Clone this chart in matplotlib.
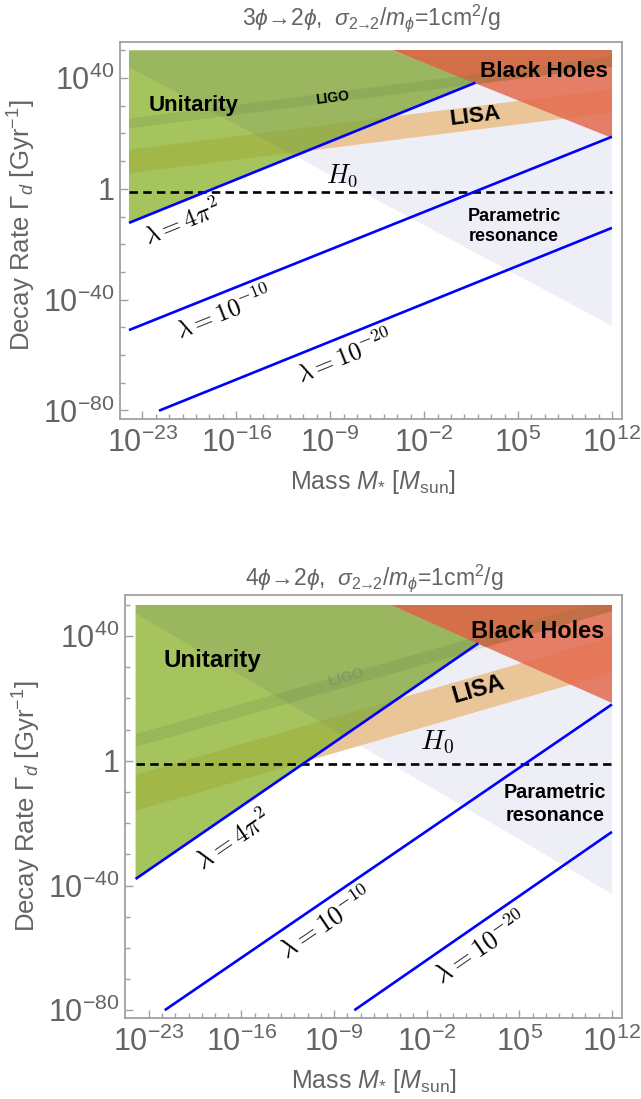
import numpy as np
import matplotlib
matplotlib.use('Agg')
import matplotlib.pyplot as plt
from matplotlib import font_manager
from matplotlib.patches import Polygon, Rectangle
from matplotlib.ticker import FixedLocator, FixedFormatter, NullFormatter

# Narrow sans if we have it, otherwise the regular metric-compatible one
_installed = {f.name for f in font_manager.fontManager.ttflist}
NARROW = 'Liberation Sans Narrow' in _installed
SANS = 'Liberation Sans Narrow' if NARROW else 'Liberation Sans'
FS = 1.2 if NARROW else 1.0   # narrow glyphs need a bigger size for the same width

plt.rcParams.update({
    'font.family': [SANS, 'DejaVu Sans'],
    'mathtext.fontset': 'custom',
    'mathtext.rm': SANS,
    'mathtext.it': SANS + ':italic',
    'mathtext.bf': SANS + ':bold',
})

# All values are log10: mass in M_sun, decay rate in Gyr^-1
MASS_RANGE = [-24, 12]
RATE_TOP = 50
H0_RATE = -1.15
X_MAJOR = [-23, -16, -9, -2, 5, 12]
X_LABELS = [r'$10^{-23}$', r'$10^{-16}$', r'$10^{-9}$', r'$10^{-2}$', r'$10^{5}$', r'$10^{12}$']
Y_MAJOR = [-80, -40, 0, 40]
Y_LABELS = [r'$10^{-80}$', r'$10^{-40}$', '1', r'$10^{40}$']
LAMBDA_LABELS = [r'$\lambda = 4\pi^2$', r'$\lambda = 10^{-10}$', r'$\lambda = 10^{-20}$']

# 3phi -> 2phi
P32_LAMBDA_X = [[-24, 1.82], [-24, 12], [-21.76, 12]]
P32_LAMBDA_Y = [[-12.3, 38.3], [-51.0, 18.8], [-80.1, -14.1]]
P32_BH_X = [-4.4, 12]
P32_BH_Y = [50, 18.5]
P32_PR_Y = [44, -49.5]          # parametric resonance edge at the two mass ends
P32_LIGO_LO = [21.8, 44.0]
P32_LIGO_HI = [25.4, 47.7]
P32_LISA_LO = [5.6, 27.5]
P32_LISA_HI = [14.1, 36.0]

# 4phi -> 2phi
P42_LAMBDA_X = [[-24, 1.9], [-21.8, 12], [-7.47, 12]]
P42_LAMBDA_Y = [[-37.9, 37.7], [-80.0, 18.1], [-80.0, -22.8]]
P42_BH_X = [-4.7, 12]
P42_BH_Y = [50, 18.4]
P42_PR_Y = [47.3, -42.7]
P42_LIGO_LO = [4.4, 48.0]
P42_LIGO_HI = [8.6, 52.2]
P42_LISA_LO = [-16.0, 28.3]
P42_LISA_HI = [-4.5, 39.8]

GRAY = '#646464'
FRAME = '#a0a0a0'


def pt(x, y):
    return (10.0 ** x, 10.0 ** y)


def angle_of(ax, xs, ys):
    p = ax.transData.transform([pt(xs[0], ys[0]), pt(xs[1], ys[1])])
    return np.degrees(np.arctan2(p[1, 1] - p[0, 1], p[1, 0] - p[0, 0]))


def band_poly(lo, hi):
    x0, x1 = MASS_RANGE
    return [pt(x0, lo[0]), pt(x1, lo[1]), pt(x1, hi[1]), pt(x0, hi[0])]


def draw_panel(ax, xlim, ylim, lam_x, lam_y, bh_x, bh_y, pr_y,
               ligo_lo, ligo_hi, lisa_lo, lisa_hi, txt):
    x0, x1 = MASS_RANGE
    ax.set_xscale('log')
    ax.set_yscale('log')
    ax.set_xlim(10.0 ** xlim[0], 10.0 ** xlim[1])
    ax.set_ylim(10.0 ** ylim[0], 10.0 ** ylim[1])

    box = Rectangle(pt(x0, ylim[0]), 10.0 ** x1 - 10.0 ** x0, 10.0 ** RATE_TOP - 10.0 ** ylim[0],
                    transform=ax.transData)

    # parametric resonance region, under everything else
    pr_verts = [pt(x0, pr_y[0]), pt(x1, pr_y[1]), pt(x1, RATE_TOP), pt(x0, RATE_TOP)]
    ax.add_patch(Polygon(pr_verts, closed=True, fc='#eeeef6', ec='none', zorder=1))

    # LISA band; unitarity shades it olive where they overlap
    lisa = Polygon(band_poly(lisa_lo, lisa_hi), closed=True, fc='#eac597', ec='none', zorder=2)
    ax.add_patch(lisa)
    lisa.set_clip_path(box)

    green = Polygon([pt(x0, lam_y[0][0]), pt(lam_x[0][1], lam_y[0][1]), pt(bh_x[0], RATE_TOP),
                     pt(x0, RATE_TOP)], closed=True, fc='#8db431', ec='none', alpha=0.78, zorder=3)
    ax.add_patch(green)
    tint = Polygon(pr_verts, closed=True, fc='#6f7a78', ec='none', alpha=0.14, zorder=4)
    ax.add_patch(tint)
    tint.set_clip_path(green)

    bh = Polygon([pt(bh_x[0], bh_y[0]), pt(x1, RATE_TOP), pt(bh_x[1], bh_y[1])],
                 closed=True, fc='#e36b4e', ec='none', alpha=0.85, zorder=5)
    ax.add_patch(bh)
    bh_dark = Polygon([pt(x0, ligo_lo[0]), pt(x1, ligo_lo[1]), pt(x1, 80), pt(x0, 80)],
                      closed=True, fc='#c5632d', ec='none', alpha=0.5, zorder=6)
    ax.add_patch(bh_dark)
    bh_dark.set_clip_path(bh)

    ligo = Polygon(band_poly(ligo_lo, ligo_hi), closed=True, fc='#4a6e3c', ec='none',
                   alpha=0.14, zorder=7)
    ax.add_patch(ligo)
    ligo.set_clip_path(box)

    ax.plot([10.0 ** x0, 10.0 ** x1], [10.0 ** H0_RATE] * 2, color='black', lw=1.9,
            ls=(0, (3.2, 2.0)), zorder=8)

    for xs, ys in zip(lam_x, lam_y):
        ax.plot(10.0 ** np.array(xs), 10.0 ** np.array(ys), color='#0000ff', lw=1.9,
                solid_capstyle='butt', zorder=9)

    # lambda labels follow their lines
    for (xs, ys), lab, pos in zip(zip(lam_x, lam_y), LAMBDA_LABELS, txt['lambda']):
        ax.text(*pt(*pos), lab, rotation=angle_of(ax, xs, ys), rotation_mode='anchor',
                ha='center', va='center', fontsize=txt['lam_fs'], math_fontfamily='cm', zorder=10)

    ax.text(*pt(*txt['h0']), r'$H_0$', fontsize=txt['lam_fs'] + 1, math_fontfamily='cm',
            ha='center', va='center', zorder=10)

    bold = dict(fontweight='bold', ha='center', va='center', zorder=10, color='black')
    ax.text(*pt(*txt['unit']), 'Unitarity', fontsize=txt['unit_fs'] * FS, **bold)
    ax.text(*pt(*txt['bh']), 'Black Holes', fontsize=txt['bh_fs'] * FS, **bold)
    rot_band = angle_of(ax, MASS_RANGE, lisa_lo)
    ax.text(*pt(*txt['lisa']), 'LISA', fontsize=txt['bh_fs'] * FS, rotation=rot_band,
            rotation_mode='anchor', **bold)
    ligo_kw = dict(bold)
    ligo_kw['color'] = txt['ligo_color']
    ax.text(*pt(*txt['ligo']), 'LIGO', fontsize=txt['small'] * FS,
            rotation=angle_of(ax, MASS_RANGE, ligo_lo), rotation_mode='anchor', **ligo_kw)
    ax.text(*pt(*txt['pr']), 'Parametric\nresonance', fontsize=txt['mid'] * FS,
            linespacing=1.25, **bold)

    # Mathematica-like frame: inward ticks on left and bottom only
    for s in ax.spines.values():
        s.set_color(FRAME)
        s.set_linewidth(1.3)
    ax.xaxis.set_major_locator(FixedLocator([10.0 ** v for v in X_MAJOR]))
    ax.xaxis.set_major_formatter(FixedFormatter(X_LABELS))
    ax.xaxis.set_minor_locator(FixedLocator([10.0 ** v for v in range(-23, 13)]))
    ax.xaxis.set_minor_formatter(NullFormatter())
    ax.yaxis.set_major_locator(FixedLocator([10.0 ** v for v in Y_MAJOR]))
    ax.yaxis.set_major_formatter(FixedFormatter(Y_LABELS))
    ax.yaxis.set_minor_locator(FixedLocator([10.0 ** v for v in range(-80, 51, 10)]))
    ax.yaxis.set_minor_formatter(NullFormatter())
    ax.tick_params(which='both', direction='in', top=False, right=False, color=FRAME, width=1.0)
    ax.tick_params(which='major', length=5.5)
    ax.tick_params(which='minor', length=3.5)
    ax.tick_params(axis='x', which='major', labelsize=22, labelcolor=GRAY, pad=6)
    ax.tick_params(axis='y', which='major', labelsize=22, labelcolor=GRAY, pad=4)


W, H = 641, 1099
fig = plt.figure(figsize=(W / 100, H / 100), dpi=100)

ax_top = fig.add_axes([120 / W, 1 - 419 / H, 502 / W, 377 / H])
ax_bot = fig.add_axes([125 / W, 1 - 1018 / H, 497 / W, 423 / H])

draw_panel(ax_top, (-24.67, 12.75), (-83.1, 53.0), P32_LAMBDA_X, P32_LAMBDA_Y, P32_BH_X, P32_BH_Y,
           P32_PR_Y, P32_LIGO_LO, P32_LIGO_HI, P32_LISA_LO, P32_LISA_HI,
           {'lambda': [(-20.0, -12.0), (-16.9, -44.9), (-7.9, -60.6)],
            'lam_fs': 18, 'h0': (-8.1, 4.6), 'unit': (-19.2, 29.9), 'bh': (6.9, 42.5),
            'lisa': (1.8, 26.2), 'ligo': (-8.8, 32.7), 'pr': (4.7, -13.5),
            'unit_fs': 16.0, 'bh_fs': 16.2, 'mid': 13.0, 'small': 10.0, 'ligo_color': 'black'})

draw_panel(ax_bot, (-24.8, 12.76), (-82.5, 53.2), P42_LAMBDA_X, P42_LAMBDA_Y, P42_BH_X, P42_BH_Y,
           P42_PR_Y, P42_LIGO_LO, P42_LIGO_HI, P42_LISA_LO, P42_LISA_HI,
           {'lambda': [(-16.6, -25.4), (-9.65, -52.1), (2.1, -60.1)],
            'lam_fs': 19, 'h0': (-1.2, 6.0), 'unit': (-18.2, 32.3), 'bh': (6.4, 41.6),
            'lisa': (1.9, 23.0), 'ligo': (-8.1, 26.9), 'pr': (7.7, -13.9),
            'unit_fs': 17.4, 'bh_fs': 16.9, 'mid': 14.2, 'small': 10.5, 'ligo_color': '#809b68'})

# titles and axis labels, placed in figure pixels
title_kw = dict(ha='center', va='center', color=GRAY, fontsize=16.5)
fig.text(371 / W, 1 - 18 / H,
         r'3$\phi$→2$\phi$,  $\sigma_{2\!\!\rightarrow\!\!2}/m_{\phi}$=1cm$^2$/g', **title_kw)
fig.text(374 / W, 1 - 578 / H,
         r'4$\phi$→2$\phi$,  $\sigma_{2\!\!\rightarrow\!\!2}/m_{\phi}$=1cm$^2$/g', **title_kw)

xlab = r'Mass $M_{*}$ [$M_{\mathrm{sun}}$]'
fig.text(373 / W, 1 - 482 / H, xlab, ha='center', va='center', color=GRAY, fontsize=18)
fig.text(374 / W, 1 - 1081 / H, xlab, ha='center', va='center', color=GRAY, fontsize=18)

ylab = r'Decay Rate $\Gamma_{d}$ [Gyr$^{-1}$]'
fig.text(22 / W, 1 - 225 / H, ylab, ha='center', va='center', rotation=90, color=GRAY, fontsize=18.5)
fig.text(27 / W, 1 - 806 / H, ylab, ha='center', va='center', rotation=90, color=GRAY, fontsize=18.5)

fig.savefig('out.png', dpi=100)
